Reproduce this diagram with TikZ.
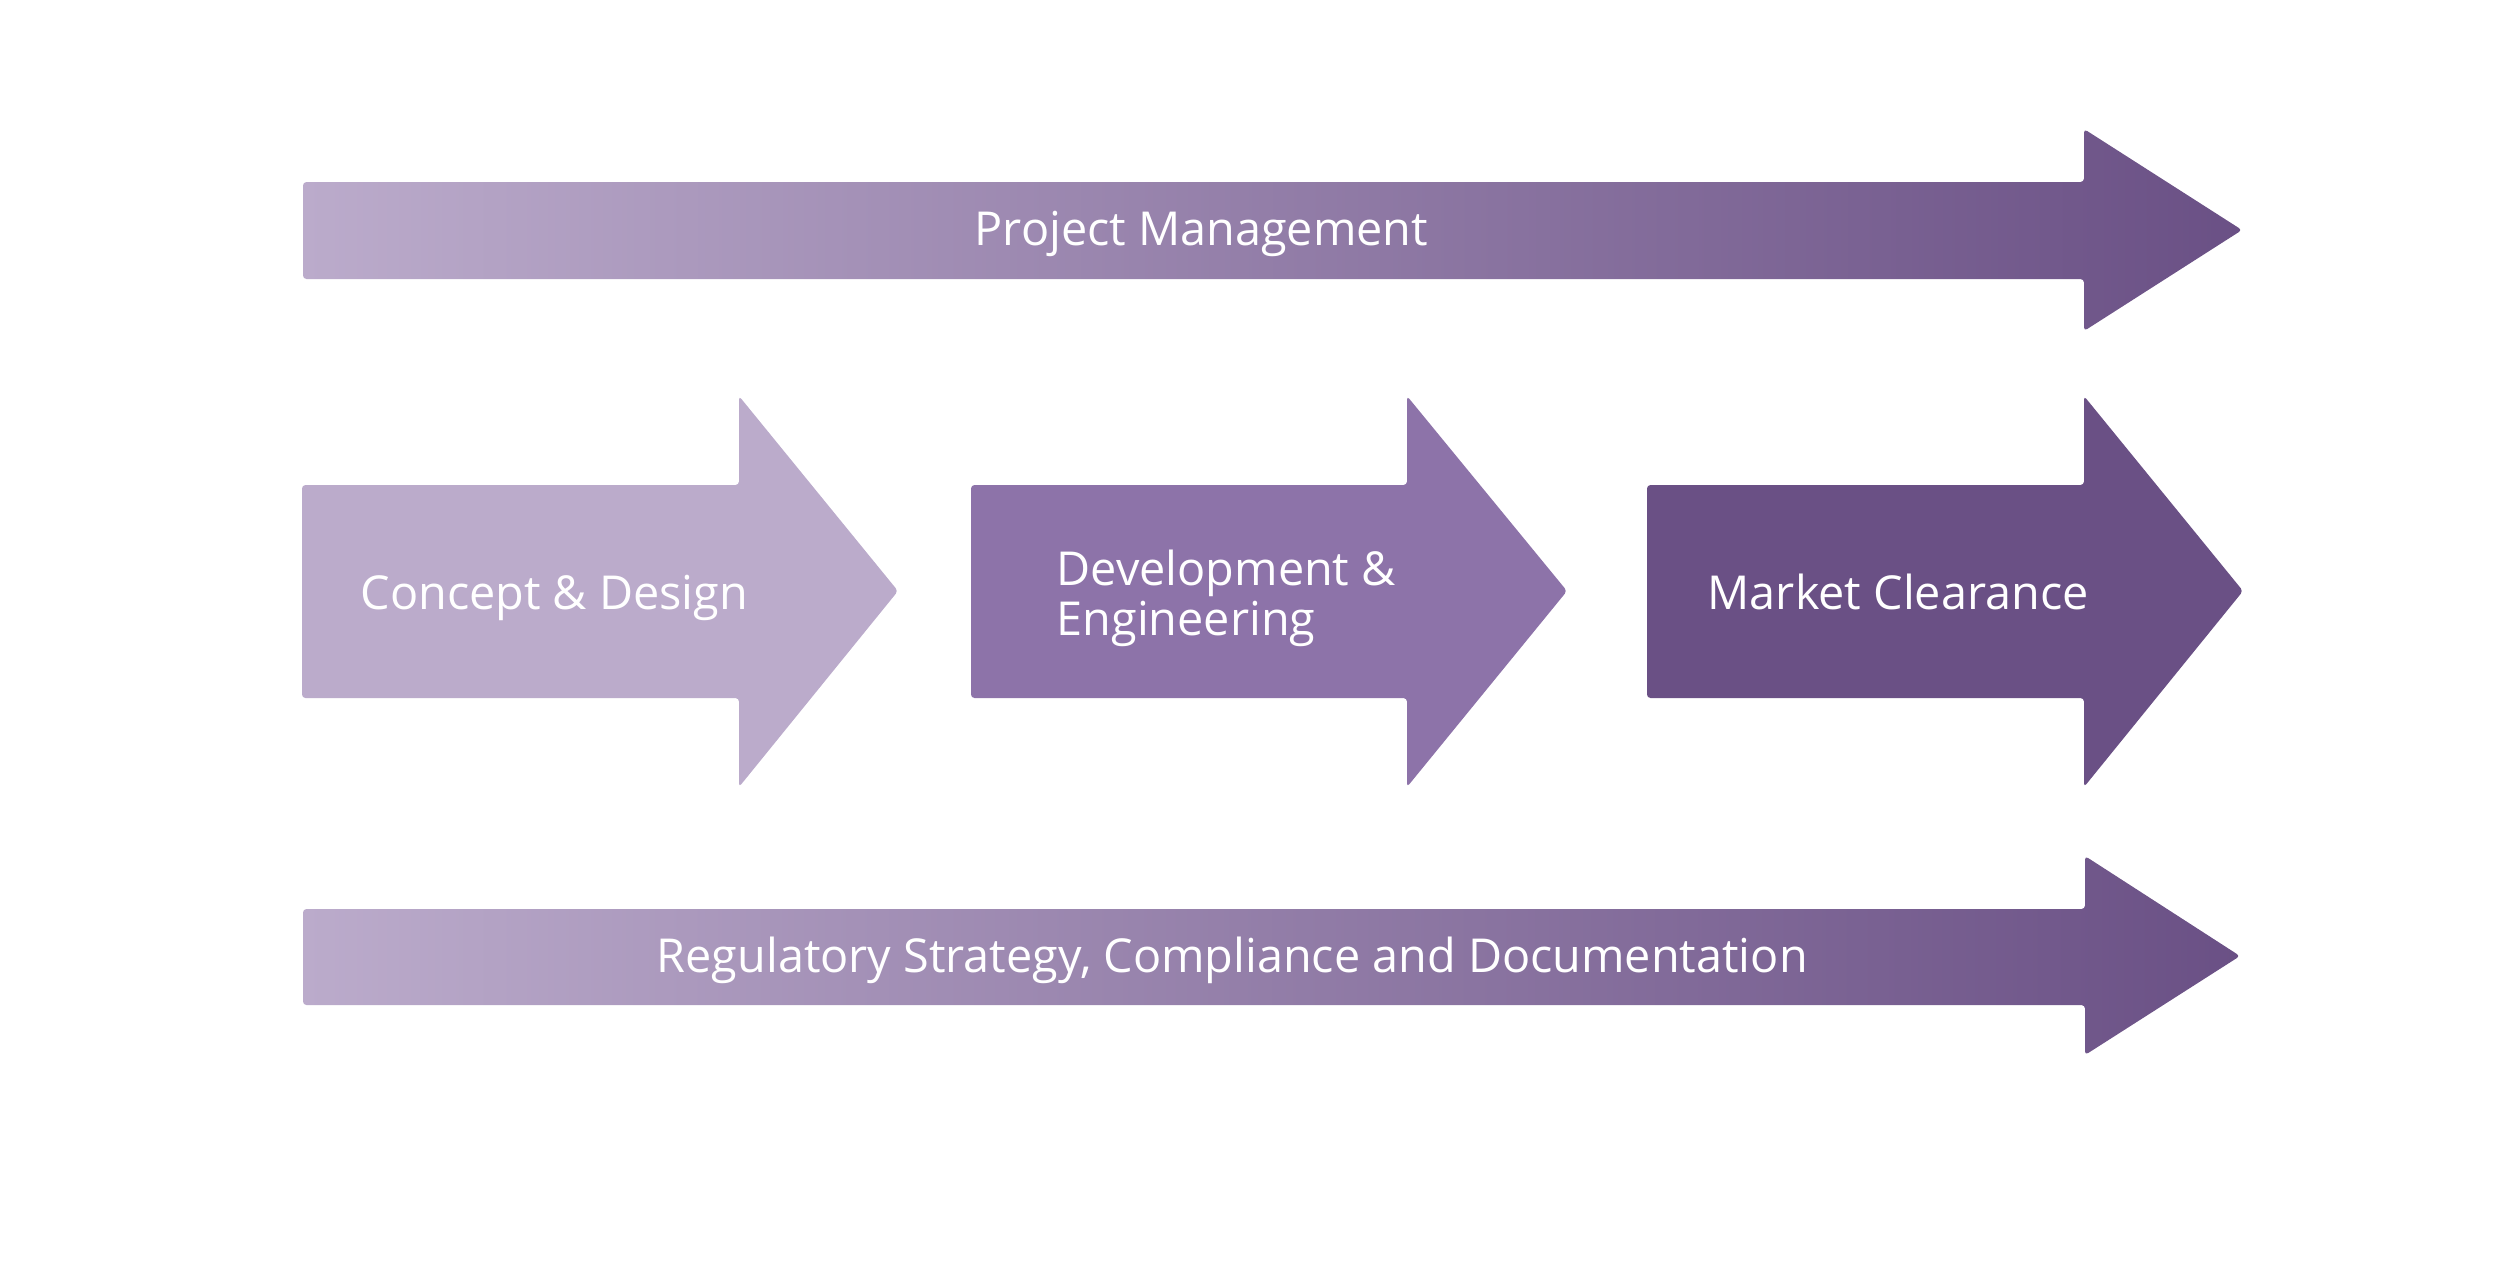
\documentclass[tikz,border=0pt]{standalone}
\usepackage{fontspec}
\setmainfont{Open Sans}
\usepackage{tikz}
\definecolor{lightlilac}{HTML}{BBABCB}
\definecolor{midlilac}{HTML}{8D73A9}
\definecolor{darklilac}{HTML}{6A5085}
\tikzstyle{phasetext} = [text=white, inner sep=0pt, anchor=base west, align=left, font=\fontsize{13.3}{14.2}\selectfont]
\tikzstyle{phase} = [rounded corners=1pt]
\tikzstyle{band} = [rounded corners=1pt, left color=lightlilac, right color=darklilac]

\begin{document}
\begin{tikzpicture}[x=0.01cm, y=-0.01cm]
		\useasboundingbox (0,0) rectangle (2500,1265);
		
		% long arrows
		\path [band] (303,182) -- (2084,182) -- (2084,129) -- (2242,230) -- (2084,331) -- (2084,279) -- (303,279) -- cycle;
		\path [band] (303,909) -- (2085,909) -- (2085,856) -- (2240,956) -- (2085,1055) -- (2085,1005) -- (303,1005) -- cycle;
		
		% phases
		\path [phase, fill=lightlilac] (302,485) -- (739,485) -- (739,396) -- (898,591) -- (739,787) -- (739,698) -- (302,698) -- cycle;
		\path [phase, fill=midlilac] (971,485) -- (1407,485) -- (1407,396) -- (1567,591) -- (1407,787) -- (1407,698) -- (971,698) -- cycle;
		\path [phase, fill=darklilac] (1647,485) -- (2084,485) -- (2084,396) -- (2243,591) -- (2084,787) -- (2084,698) -- (1647,698) -- cycle;
		
		\node (pm) [phasetext] at (974,245) {Project Management};
		\node (concept) [phasetext] at (360,609) {Concept \& Design};
		\node (develop) [phasetext] at (1056,635) {Development \&\\Engineering};
		\node (market) [phasetext] at (1707,609) {Market Clearance};
		\node (regul) [phasetext] at (656,972) {Regulatory Strategy, Compliance and Documentation};
		
\end{tikzpicture}
\end{document}
